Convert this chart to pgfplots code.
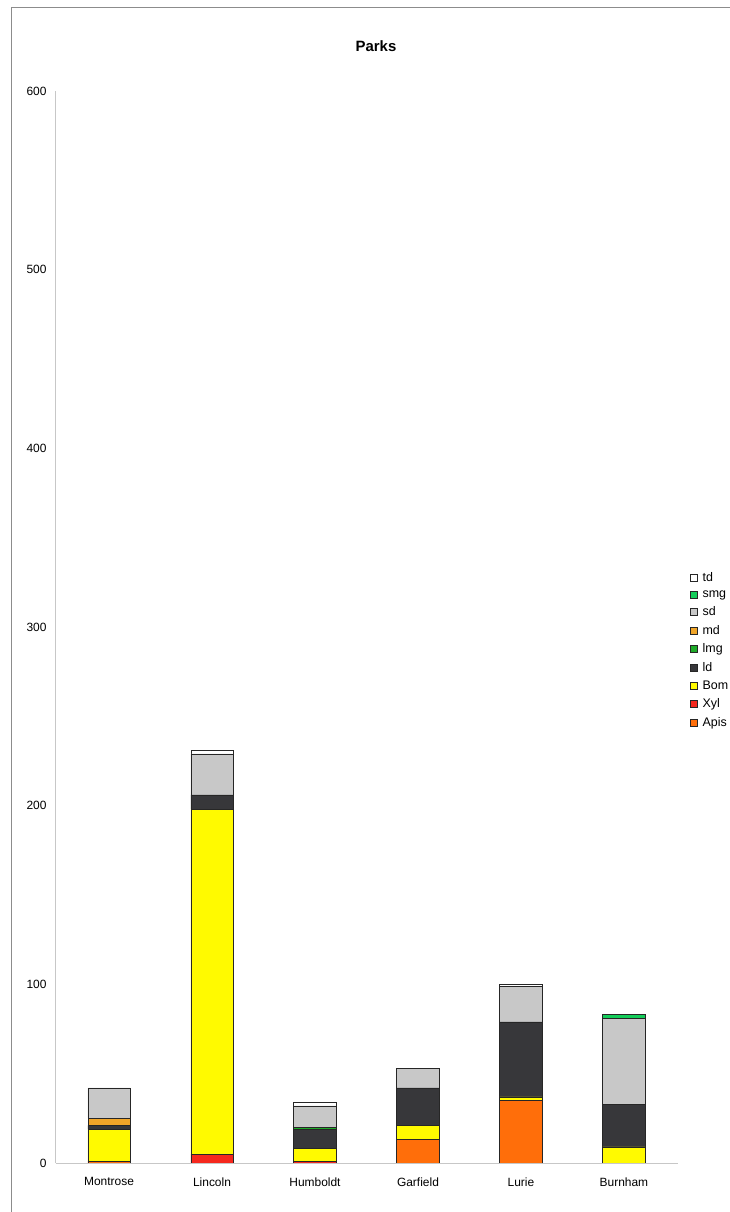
\documentclass[border=0pt]{standalone}
\usepackage{fontspec}
\setmainfont{Liberation Sans}
\usepackage{pgfplots}
\pgfplotsset{compat=1.18}
\usepackage{pgfplotstable}

\definecolor{cApis}{RGB}{255,110,10}
\definecolor{cXyl}{RGB}{245,40,30}
\definecolor{cBom}{RGB}{255,250,0}
\definecolor{cld}{RGB}{55,55,58}
\definecolor{clmg}{RGB}{30,170,40}
\definecolor{cmd}{RGB}{240,165,40}
\definecolor{csd}{RGB}{200,200,200}
\definecolor{csmg}{RGB}{20,205,90}
\definecolor{ctd}{RGB}{255,255,255}

\pgfplotstableread{
x Apis Xyl Bom ld lmg md sd smg td
0 1 0 18 2 0 4 17 0 0
1 0 5 193 8 0 0 23 0 2
2 0 1 7 11 1 0 12 0 2
3 13 0 8 21 0 0 11 0 0
4 35 0 2 42 0 0 20 0 1
5 0 0 9 24 0 0 48 2 0
}\parks

\begin{document}
\begin{tikzpicture}
\clip (0bp,0bp) rectangle (730bp,1212bp);
\fill[white] (0bp,0bp) rectangle (730bp,1212bp);
\draw[black!45, line width=1bp] (11.5bp,0bp) -- (11.5bp,1204bp) -- (730bp,1204bp);
\node[font=\bfseries\fontsize{15}{18}\selectfont] at (376bp,1166bp) {Parks};
\begin{axis}[
  at={(56bp,49bp)}, anchor=south west,
  scale only axis, width=622bp, height=1072bp,
  ybar stacked, bar width=42.4bp,
  xmin=-0.515, xmax=5.525, ymin=0, ymax=600,
  xtick=data, xticklabels={Montrose,Lincoln,Humboldt,Garfield,Lurie,Burnham},
  ytick={0,100,...,600},
  axis x line*=bottom, axis y line*=left,
  axis line style={black!22, line width=1bp, -},
  major tick length=0pt,
  /pgf/number format/assume math mode=true,
  ticklabel style={font=\fontsize{12}{14}\selectfont},
  xticklabel style={yshift=-11bp},
  yticklabel style={xshift=-6bp},
  every axis plot/.append style={draw=black!85, line width=0.6bp},
  reverse legend,
  legend cell align=left,
  legend image code/.code={\draw[#1, line width=0.5bp] (0bp,-3.5bp) rectangle (7bp,3.5bp);},
  legend style={at={(1.019,0.552)}, anchor=north west, draw=none, fill=none,
    font=\fontsize{12.5}{14}\selectfont, inner sep=0pt, row sep=6.8bp,
    nodes={inner sep=0.6bp},
    /tikz/every odd column/.append style={column sep=4.5bp}},
]
\addplot[fill=cApis] table[x=x,y=Apis]{\parks};
\addplot[fill=cXyl] table[x=x,y=Xyl]{\parks};
\addplot[fill=cBom] table[x=x,y=Bom]{\parks};
\addplot[fill=cld] table[x=x,y=ld]{\parks};
\addplot[fill=clmg] table[x=x,y=lmg]{\parks};
\addplot[fill=cmd] table[x=x,y=md]{\parks};
\addplot[fill=csd] table[x=x,y=sd]{\parks};
\addplot[fill=csmg] table[x=x,y=smg]{\parks};
\addplot[fill=ctd] table[x=x,y=td]{\parks};
\legend{Apis,Xyl,Bom,ld,lmg,md,sd,smg,td}
\end{axis}
\end{tikzpicture}
\end{document}
